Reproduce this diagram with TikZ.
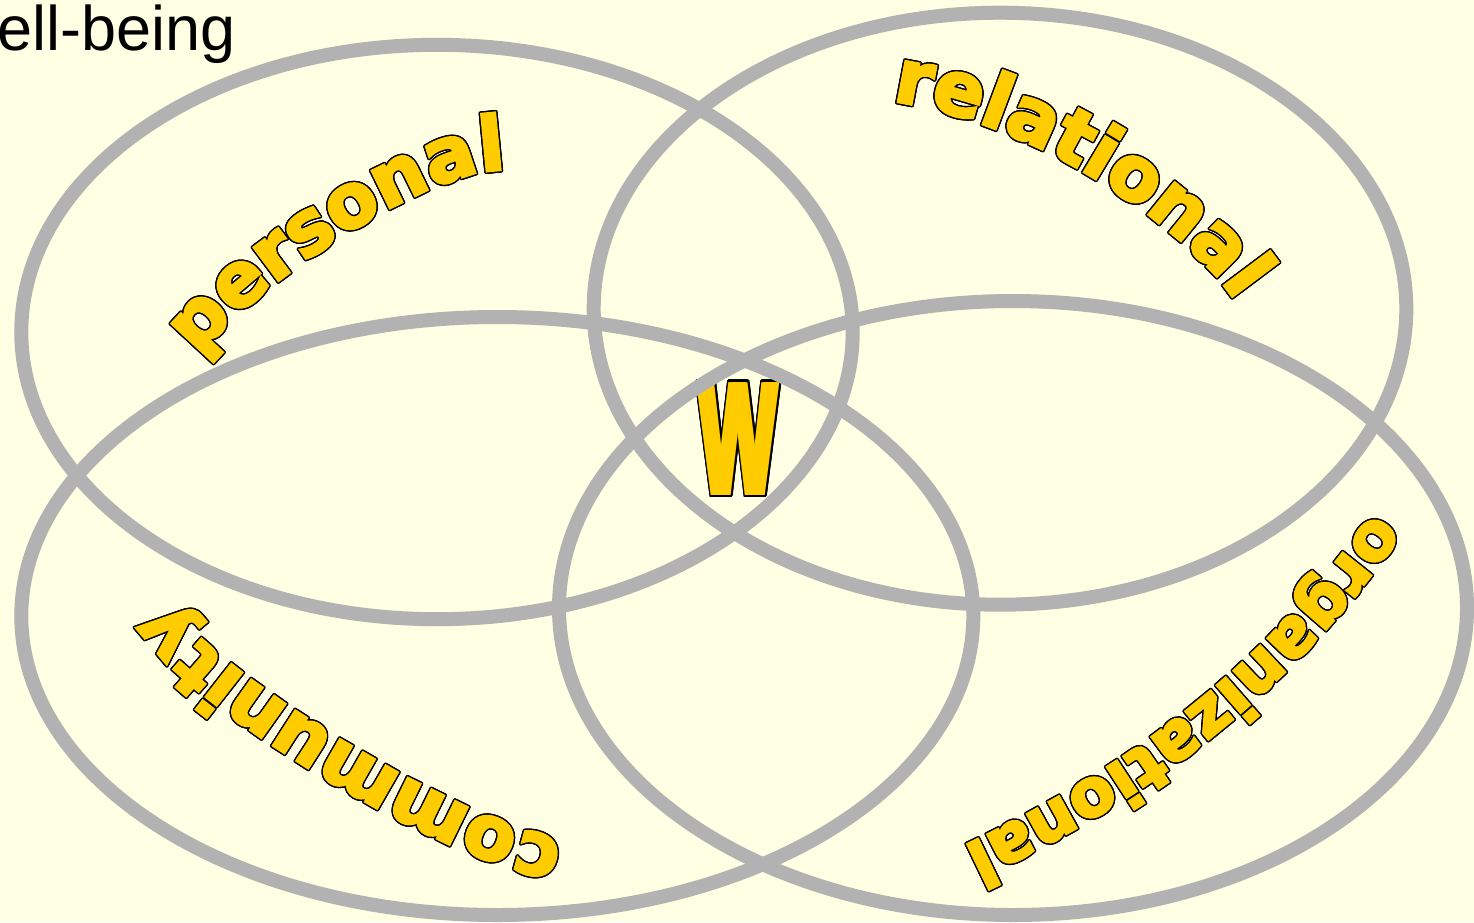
\documentclass[tikz,border=0pt]{standalone}
\usepackage{fontspec}
\usepackage{contour}
\usetikzlibrary{decorations.text}
\newfontface\labelfont{DejaVu Sans Bold}[FakeBold=4]
\newfontface\wfont{Liberation Sans Bold}
\newfontfamily\titlefont{Liberation Sans}
\definecolor{bgc}{HTML}{FFFFE3}
\definecolor{ringc}{HTML}{B2B2B2}
\definecolor{wordc}{HTML}{FFCC00}
\contourlength{1.4pt}
\newcommand\outlinechar[1]{\contour{black}{#1}}
\newcommand\wcopy[1]{\makebox[0pt][l]{\kern#1pt W}}
\newcommand\Wthick{\wcopy{0}\wcopy{4}\wcopy{8}\kern12pt W}
\begin{document}
\begin{tikzpicture}[x=1pt,y=-1pt,
  ring/.style={draw=ringc, line width=14pt},
  arcword/.style n args={2}{decorate, decoration={text effects along path, text={#1},
     text effects/.cd, text along path, character command=\outlinechar,
     characters={font=\labelfont\fontsize{#2}{#2}\selectfont, text=wordc, inner sep=0pt}}}
]
\useasboundingbox (0,0) rectangle (1474,922);
\fill[bgc] (0,0) rectangle (1474,922);
% title
\node[anchor=base west, inner sep=0pt, font=\titlefont\fontsize{63}{63}\selectfont] (title) at (-3,50) {ell-being};
% centre letter
\node[inner sep=0pt, xscale=0.5, text=wordc, font=\wfont\fontsize{164}{164}\selectfont] (w) at (738.4,440) {\contourlength{2.8pt}\contour{black}{\Wthick}};
% rings
\draw[ring] (437,332) ellipse [x radius=415.7pt, y radius=287.2pt];
\draw[ring] (1000,308.7) ellipse [x radius=406.3pt, y radius=296pt];
\draw[ring] (497.3,616) ellipse [x radius=476pt, y radius=299pt];
\draw[ring] (1013,608) ellipse [x radius=454pt, y radius=307pt];
% label paths
\coordinate (pa) at (199,357); \coordinate (pb) at (245,291); \coordinate (pc) at (418,174); \coordinate (pd) at (498,170); \coordinate (pe) at (560,167);
\coordinate (ra) at (892,101); \coordinate (rb) at (1040,122); \coordinate (rc) at (1186,230); \coordinate (rd) at (1232,296); \coordinate (re) at (1266,345);
\coordinate (ca) at (564,840); \coordinate (cb) at (456,821); \coordinate (cc) at (215,674); \coordinate (cd) at (173,606); \coordinate (ce) at (141,555);
\coordinate (oa) at (1373,512); \coordinate (ob) at (1258,676); \coordinate (oc) at (1118,774); \coordinate (od) at (955,850); \coordinate (oe) at (901,875);
\path[arcword={personal}{75}] (pa) .. controls (pb) and (pc) .. (pd) -- (pe);
\path[arcword={relational}{75}] (ra) .. controls (rb) and (rc) .. (rd) -- (re);
\path[arcword={community}{75}] (ca) .. controls (cb) and (cc) .. (cd) -- (ce);
\path[arcword={organizational}{66}] (oa) .. controls (ob) and (oc) .. (od) -- (oe);
\end{tikzpicture}
\end{document}
